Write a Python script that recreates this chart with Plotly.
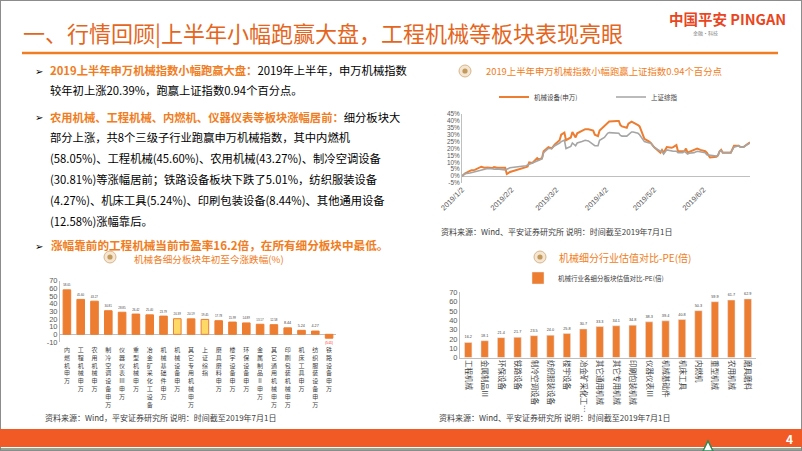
import plotly.graph_objects as go

W, H = 802, 451
FONT = "Noto Sans CJK SC"
ORANGE = "#ED7D31"
TITLE_ORANGE = "#E4661E"

# ---------------------------------------------------------------------------
# Data
# ---------------------------------------------------------------------------
line_dates = [
    "2019-01-02", "2019-01-04", "2019-01-07", "2019-01-08", "2019-01-10", "2019-01-11",
    "2019-01-14", "2019-01-16", "2019-01-18", "2019-01-21", "2019-01-22", "2019-01-24",
    "2019-01-28", "2019-01-29", "2019-01-30", "2019-02-01", "2019-02-11", "2019-02-12",
    "2019-02-13", "2019-02-15", "2019-02-18", "2019-02-19", "2019-02-21", "2019-02-22",
    "2019-02-25", "2019-02-27", "2019-03-01", "2019-03-04", "2019-03-05", "2019-03-07",
    "2019-03-08", "2019-03-11", "2019-03-12", "2019-03-14", "2019-03-15", "2019-03-18",
    "2019-03-20", "2019-03-22", "2019-03-25", "2019-03-26", "2019-03-28", "2019-03-29",
    "2019-04-01", "2019-04-03", "2019-04-04", "2019-04-09", "2019-04-10", "2019-04-11",
    "2019-04-12", "2019-04-15", "2019-04-16", "2019-04-18", "2019-04-19", "2019-04-22",
    "2019-04-23", "2019-04-25", "2019-04-26", "2019-04-29", "2019-04-30", "2019-05-02",
    "2019-05-06", "2019-05-07", "2019-05-08", "2019-05-10", "2019-05-13", "2019-05-14",
    "2019-05-16", "2019-05-17", "2019-05-20", "2019-05-21", "2019-05-22", "2019-05-23",
    "2019-05-24", "2019-05-27", "2019-05-29", "2019-05-31", "2019-06-03", "2019-06-04",
    "2019-06-06", "2019-06-10", "2019-06-11", "2019-06-12", "2019-06-13", "2019-06-14",
    "2019-06-17", "2019-06-19", "2019-06-21", "2019-06-24", "2019-06-25", "2019-06-27",
    "2019-06-28", "2019-07-01",
]
mech_pct = [
    0, 2.0, 3.8, 4.3, 4.5, 5.0, 6.8, 6.0, 6.3, 5.8, 6.5, 6.0,
    6.2, 6.0, 1.5, 3.0, 6.5, 7.0, 10.0, 9.5, 13.0, 12.0, 13.0, 18.0,
    21.0, 20.0, 23.0, 26.0, 30.0, 31.5, 26.0, 28.0, 32.0, 28.0, 31.0, 33.0,
    34.0, 34.0, 33.0, 30.0, 29.0, 33.0, 36.0, 38.0, 39.5, 40.0, 40.0, 37.0,
    36.0, 35.0, 38.0, 39.5, 39.0, 37.0, 36.0, 30.0, 27.0, 25.0, 24.0, 21.0,
    17.0, 19.0, 17.0, 21.0, 20.5, 21.0, 22.5, 18.0, 18.0, 18.0, 20.0, 17.0,
    17.5, 19.0, 20.0, 19.0, 18.0, 17.0, 13.5, 14.0, 15.0, 18.0, 19.0, 17.0,
    17.0, 17.0, 22.0, 22.0, 21.0, 21.0, 22.0, 24.5,
]
sh_pct = [
    0, 1.8, 2.3, 2.6, 3.0, 3.0, 4.0, 5.0, 5.5, 5.3, 5.0, 5.2,
    5.0, 4.5, 5.0, 6.0, 7.5, 8.0, 9.0, 9.5, 11.0, 11.5, 12.5, 17.0,
    20.0, 20.0, 22.0, 24.0, 25.0, 26.0, 20.0, 21.5, 24.0, 22.0, 24.0, 25.0,
    26.0, 25.5, 23.0, 22.0, 22.0, 26.0, 28.0, 31.0, 31.5, 31.5, 31.0, 29.5,
    29.0, 29.0, 30.0, 32.0, 32.0, 31.0, 30.0, 27.0, 25.0, 24.0, 24.0, 21.0,
    18.0, 18.0, 16.0, 19.0, 18.0, 18.0, 18.0, 17.0, 17.0, 18.0, 17.0, 16.0,
    16.5, 17.0, 18.0, 17.5, 17.0, 15.5, 15.0, 14.5, 15.0, 18.0, 18.5, 17.0,
    17.0, 17.0, 21.0, 22.0, 21.0, 21.0, 22.0, 24.0,
]
line_tick_dates = ["2019-01-02", "2019-02-02", "2019-03-02", "2019-04-02", "2019-05-02", "2019-06-02"]
line_tick_text = ["2019/1/2", "2019/2/2", "2019/3/2", "2019/4/2", "2019/5/2", "2019/6/2"]
pct_ticks = [-5, 0, 5, 10, 15, 20, 25, 30, 35, 40, 45]

# 年初至今涨跌幅(%)
chg_cats = [
    "内燃机 申万", "工程机械 申万", "农用机械 申万", "制冷空调设备 申万", "仪器仪表Ⅲ 申万",
    "重型机械 申万", "冶金矿采化工设备", "机械基础件 申万", "机械设备 申万", "其它专用机械 申万",
    "上证综指", "磨具磨料 申万", "楼宇设备 申万", "环保设备 申万", "金属制品Ⅱ 申万",
    "其它通用机械 申万", "印刷包装机械 申万", "机床工具 申万", "纺织服装设备 申万", "铁路设备 申万",
]
chg_vals = [58.05, 45.60, 43.27, 30.81, 28.85, 26.42, 25.40, 23.79, 20.39, 20.19,
            19.45, 17.78, 15.99, 14.89, 13.17, 12.58, 8.44, 5.24, 4.27, -5.01]
chg_highlight = ["机械设备 申万", "上证综指"]
chg_ticks = [-10, 0, 10, 20, 30, 40, 50, 60, 70]

# 估值对比 PE(倍)
pe_cats = [
    "工程机械", "金属制品Ⅲ", "环保设备", "铁路设备", "制冷空调设备", "纺织服装设备",
    "楼宇设备", "冶金矿采化工…", "其它通用机械", "其它专用机械", "印刷包装机械",
    "仪器仪表Ⅲ", "机械基础件", "机床工具", "内燃机", "重型机械", "农用机械", "磨具磨料",
]
pe_vals = [16.2, 18.1, 21.4, 21.7, 23.5, 24.0, 25.8, 30.7, 33.3, 34.1, 34.8,
           38.3, 39.4, 40.8, 50.3, 59.9, 61.7, 62.9]


# ---------------------------------------------------------------------------
# helpers: slide pixels -> paper coords
# ---------------------------------------------------------------------------
def px(x):
    return x / W


def py(y):
    return 1 - y / H


def note(x, y, text, size=11, color="#000000", anchor="left"):
    return dict(x=px(x), y=py(y), xref="paper", yref="paper", text=text,
                showarrow=False, xanchor=anchor, yanchor="middle", borderpad=0,
                font=dict(family=FONT, size=size, color=color))


def icon(cx, cy):
    r, r2 = 6, 2.6
    return [
        dict(type="circle", xref="paper", yref="paper",
             x0=px(cx - r), x1=px(cx + r), y0=py(cy + r), y1=py(cy - r),
             fillcolor="#F4E6D2", line=dict(color="#D9B68C", width=1)),
        dict(type="circle", xref="paper", yref="paper",
             x0=px(cx - r2), x1=px(cx + r2), y0=py(cy + r2), y1=py(cy - r2),
             fillcolor="#C39A5C", line=dict(width=0)),
    ]


fig = go.Figure()

# ---------------------------------------------------------------------------
# Line chart: 申万机械 vs 上证综指
# ---------------------------------------------------------------------------
fig.add_trace(go.Scatter(x=line_dates, y=mech_pct, name="机械设备(申万)", mode="lines",
                         line=dict(color=ORANGE, width=2), xaxis="x", yaxis="y",
                         legend="legend"))
fig.add_trace(go.Scatter(x=line_dates, y=sh_pct, name="上证综指", mode="lines",
                         line=dict(color="#A5A5A5", width=1.6), xaxis="x", yaxis="y",
                         legend="legend"))

# ---------------------------------------------------------------------------
# Bar chart: 涨跌幅
# ---------------------------------------------------------------------------
chg_fill = ["#FFD966" if c in chg_highlight else ORANGE for c in chg_cats]
chg_text = [f"({abs(v):.2f})" if v < 0 else f"{v:.2f}" for v in chg_vals]
chg_tcol = ["#FF0000" if v < 0 else "#404040" for v in chg_vals]
fig.add_trace(go.Bar(
    x=chg_cats, y=chg_vals, xaxis="x2", yaxis="y2", showlegend=False,
    marker=dict(color=chg_fill, line=dict(color=ORANGE, width=1)),
    width=0.55, text=chg_text, textposition="outside", cliponaxis=False,
    textfont=dict(family="Arial", size=6, color=chg_tcol),
))

# ---------------------------------------------------------------------------
# Bar chart: PE
# ---------------------------------------------------------------------------
fig.add_trace(go.Bar(
    x=pe_cats, y=pe_vals, xaxis="x3", yaxis="y3", name="机械行业各细分板块估值对比-PE(倍)",
    legend="legend2", marker=dict(color=ORANGE), width=0.45,
    text=[f"{v:.1f}" for v in pe_vals], textposition="outside", cliponaxis=False,
    textfont=dict(family="Arial", size=7.5, color="#404040"),
))

tick_font = dict(family="Arial", size=7.5, color="#595959")
axis_line = "#BFBFBF"

fig.update_layout(
    width=W, height=H,
    margin=dict(l=0, r=0, t=0, b=0, autoexpand=False),
    paper_bgcolor="white", plot_bgcolor="white",
    font=dict(family=FONT),
    # line chart axes
    xaxis=dict(domain=[px(462), px(750)], anchor="y", type="date", automargin=False,
               range=["2019-01-02", "2019-07-01"], tickvals=line_tick_dates,
               ticktext=line_tick_text, tickangle=-45, tickfont=tick_font,
               showgrid=False, showline=False, zeroline=False),
    yaxis=dict(domain=[py(183), py(114)], anchor="x", range=[-5, 45], automargin=False,
               tickvals=pct_ticks, ticktext=[f"{t}%" for t in pct_ticks],
               tickfont=dict(family="Arial", size=6.4, color="#595959"),
               showgrid=False, showline=True, linecolor=axis_line,
               zeroline=True, zerolinecolor=axis_line, zerolinewidth=1),
    # change bar chart axes
    xaxis2=dict(domain=[px(60), px(336)], anchor="y2", type="category", automargin=False,
                tickvals=chg_cats,
                ticktext=["<br>".join(c.replace(" ", "")) for c in chg_cats],
                tickangle=0, tickfont=dict(family=FONT, size=6, color="#404040"),
                ticklabelstandoff=3,
                showgrid=False, showline=False, zeroline=False),
    yaxis2=dict(domain=[py(342), py(280.7)], anchor="x2", range=[-10, 70], automargin=False,
                tickvals=chg_ticks, ticktext=[str(t) for t in chg_ticks],
                tickfont=tick_font, showgrid=False, showline=True, linecolor=axis_line,
                zeroline=True, zerolinecolor=axis_line, zerolinewidth=1),
    # PE bar chart axes
    xaxis3=dict(domain=[px(460), px(756)], anchor="y3", type="category", automargin=False,
                tickangle=90, tickfont=dict(family=FONT, size=7.5, color="#404040"),
                showgrid=False, showline=True, linecolor=axis_line, zeroline=False),
    yaxis3=dict(domain=[py(357.6), py(292.3)], anchor="x3", range=[0, 70], dtick=10,
                automargin=False,
                tickfont=tick_font, showgrid=False, showline=True, linecolor=axis_line,
                zeroline=False),
    legend=dict(orientation="h", x=px(494), y=py(97), xanchor="left", yanchor="middle",
                font=dict(family=FONT, size=6.5, color="#404040"),
                bgcolor="rgba(0,0,0,0)", entrywidth=72),
    legend2=dict(orientation="h", x=px(518), y=py(278), xanchor="left", yanchor="middle",
                 font=dict(family=FONT, size=6.5, color="#404040"),
                 bgcolor="rgba(0,0,0,0)"),
)

# ---------------------------------------------------------------------------
# Slide text
# ---------------------------------------------------------------------------
OR = "#F07D22"
BODY = 11.3


def span(t, c):
    return f"<span style='color:{c}'>{t}</span>"


annotations = [
    note(22, 32, "一、行情回顾|上半年小幅跑赢大盘，工程机械等板块表现亮眼",
         size=22, color=TITLE_ORANGE),
    note(668, 19, "<b>中国平安 PINGAN</b>", size=14.5, color="#E8461E"),
    note(692, 33, "金融·科技", size=5, color="#808080"),
    # bullets
    note(34, 70, "➢", size=10),
    note(49, 70, span("<b>2019上半年申万机械指数小幅跑赢大盘：</b>", OR)
         + "2019年上半年，申万机械指数", size=BODY),
    note(49, 90, "较年初上涨20.39%，跑赢上证指数0.94个百分点。", size=BODY),
    note(34, 117, "➢", size=10),
    note(49, 117, span("<b>农用机械、工程机械、内燃机、仪器仪表等板块涨幅居前：</b>", OR)
         + "细分板块大", size=BODY),
    note(49, 137, "部分上涨，共8个三级子行业跑赢申万机械指数，其中内燃机", size=BODY),
    note(49, 158, "(58.05%)、工程机械(45.60%)、农用机械(43.27%)、制冷空调设备", size=BODY),
    note(49, 179, "(30.81%)等涨幅居前；铁路设备板块下跌了5.01%，纺织服装设备", size=BODY),
    note(49, 200, "(4.27%)、机床工具(5.24%)、印刷包装设备(8.44%)、其他通用设备", size=BODY),
    note(49, 221, "(12.58%)涨幅靠后。", size=BODY),
    note(34, 245, "➢", size=10),
    note(50, 245, "<b>涨幅靠前的工程机械当前市盈率16.2倍，在所有细分板块中最低。</b>",
         size=11.6, color=OR),
    # chart titles
    note(485, 71, "2019上半年申万机械指数小幅跑赢上证指数0.94个百分点", size=9.4, color=OR),
    note(133, 259, "机械各细分板块年初至今涨跌幅(%)", size=9.6, color=OR),
    note(558, 257, "机械细分行业估值对比-PE(倍)", size=10, color=OR),
    # sources
    note(440, 231, "资料来源：Wind、平安证券研究所 说明：时间截至2019年7月1日", size=8, color="#404040"),
    note(44, 417, "资料来源：Wind，平安证券研究所 说明：时间截至2019年7月1日", size=8, color="#404040"),
    note(438, 417, "资料来源：Wind、平安证券研究所 说明：时间截至2019年7月1日", size=8, color="#404040"),
    note(789, 438, "<b>4</b>", size=12, color="white", anchor="center"),
]

shapes = [
    # slide frame
    dict(type="rect", xref="paper", yref="paper", x0=0, x1=1, y0=0, y1=1,
         line=dict(color="#8C8C8C", width=2), layer="below"),
    # title rule
    dict(type="line", xref="paper", yref="paper", x0=px(22), x1=px(778),
         y0=py(53), y1=py(53), line=dict(color="#F07D22", width=2.5)),
    # footer band
    dict(type="rect", xref="paper", yref="paper", x0=0, x1=1, y0=py(447), y1=py(429),
         fillcolor="#F15A24", line=dict(width=0), layer="below"),
    dict(type="line", xref="paper", yref="paper", x0=0, x1=1, y0=py(449), y1=py(449),
         line=dict(color="#6E8B74", width=1.5)),
    dict(type="path", xref="paper", yref="paper",
         path=f"M {px(703)},{py(451)} L {px(708)},{py(441)} L {px(713)},{py(451)} Z",
         fillcolor="white", line=dict(color="#2E8B57", width=1.5)),
]
shapes += icon(465, 71) + icon(110, 257) + icon(540, 257)

fig.update_layout(annotations=annotations, shapes=shapes)

# the page's default body margin would push the slide 8px off the window
fig.write_html("out.html", config={"displayModeBar": False},
               post_script="document.body.style.margin='0';")
